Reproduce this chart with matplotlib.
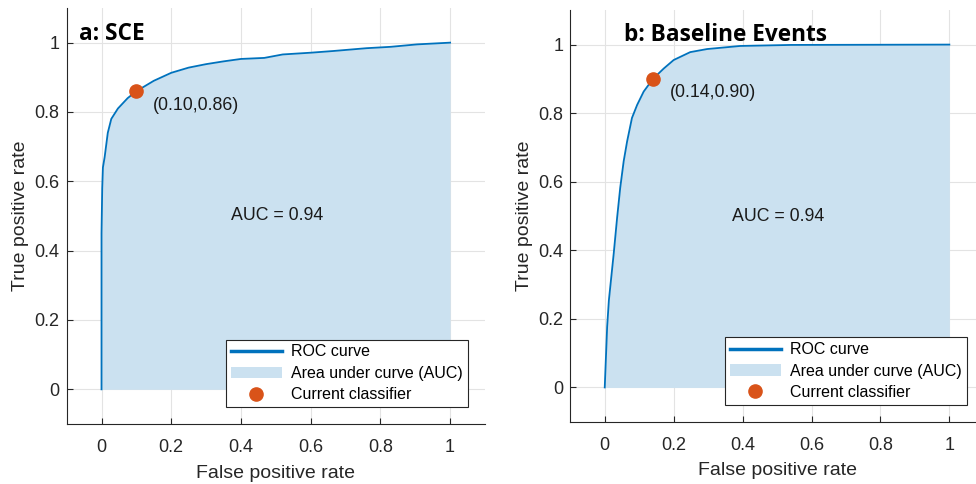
import numpy as np
import matplotlib.pyplot as plt

# ROC curve, panel a (SCE)
fpr_a = [0.0, 0.0, 0.002, 0.004, 0.009, 0.018, 0.028, 0.047, 0.075, 0.10, 0.15, 0.20,
         0.25, 0.30, 0.35, 0.40, 0.467, 0.52, 0.60, 0.666, 0.76, 0.83, 0.905, 1.0]
tpr_a = [0.0, 0.45, 0.58, 0.64, 0.67, 0.74, 0.78, 0.81, 0.84, 0.86, 0.89, 0.913,
         0.928, 0.938, 0.946, 0.953, 0.956, 0.966, 0.971, 0.976, 0.984, 0.988, 0.995, 1.0]

# ROC curve, panel b (Baseline Events)
fpr_b = [0.0, 0.007, 0.012, 0.026, 0.036, 0.045, 0.055, 0.065, 0.079, 0.094, 0.113,
         0.14, 0.171, 0.20, 0.248, 0.297, 0.393, 0.54, 1.0]
tpr_b = [0.0, 0.177, 0.254, 0.39, 0.496, 0.583, 0.66, 0.718, 0.786, 0.824, 0.863,
         0.90, 0.93, 0.955, 0.978, 0.987, 0.996, 0.999, 1.0]

op_a = (0.10, 0.86)
op_b = (0.14, 0.90)
auc_a = 0.94
auc_b = 0.94
titles = ['a: SCE', 'b: Baseline Events']
ticks = [0, 0.2, 0.4, 0.6, 0.8, 1]
tick_labels = ['0', '0.2', '0.4', '0.6', '0.8', '1']

plt.rcParams['font.family'] = 'Liberation Sans'

line_col = '#0072BD'
fill_col = '#cbe1f0'
dot_col = '#D95319'
ax_col = '#262626'

fig = plt.figure(figsize=(9.76, 4.84), dpi=100)
ax1 = fig.add_axes([0.0683, 0.124, 0.4286, 0.8595])
ax2 = fig.add_axes([0.5843, 0.1287, 0.4237, 0.850])

panels = [(ax1, fpr_a, tpr_a, op_a, auc_a, titles[0], (-0.066, 1.026)),
          (ax2, fpr_b, tpr_b, op_b, auc_b, titles[1], (0.057, 1.028))]

for ax, fpr, tpr, op, auc, title, tpos in panels:
    ax.set_xlim(-0.1, 1.1)
    ax.set_ylim(-0.1, 1.1)
    ax.grid(True, color='#e3e3e3', lw=0.8)
    ax.set_axisbelow(True)
    fill = ax.fill_between(fpr, tpr, 0, color=fill_col, lw=0, zorder=2,
                           label='Area under curve (AUC)')
    line, = ax.plot(fpr, tpr, color=line_col, lw=1.3, zorder=3, label='ROC curve')
    dot, = ax.plot([op[0]], [op[1]], 'o', color=dot_col, ms=9.5, zorder=4,
                   label='Current classifier')
    ax.annotate('(%.2f,%.2f)' % op, xy=op, xytext=(12, -10), textcoords='offset points',
                ha='left', va='center', fontsize=12.8, color='#1a1a1a')
    ax.text(0.37, 0.5, 'AUC = %.2f' % auc, ha='left', va='center', fontsize=12.8,
            color='#1a1a1a')
    ax.text(tpos[0], tpos[1], title, ha='left', va='center', fontsize=16.3,
            fontweight='bold', family='Open Sans', color='black')
    ax.set_xticks(ticks)
    ax.set_xticklabels(tick_labels)
    ax.set_yticks(ticks)
    ax.set_yticklabels(tick_labels)
    ax.tick_params(axis='both', direction='in', length=4, labelsize=13,
                   colors=ax_col, width=0.8)
    ax.tick_params(axis='x', pad=11)
    ax.tick_params(axis='y', pad=5)
    for s in ['top', 'right']:
        ax.spines[s].set_visible(False)
    for s in ['left', 'bottom']:
        ax.spines[s].set_color(ax_col)
        ax.spines[s].set_linewidth(0.8)
    ax.set_xlabel('False positive rate', fontsize=14, color=ax_col, labelpad=6)
    ax.set_ylabel('True positive rate', fontsize=14, color=ax_col, labelpad=4)
    leg = ax.legend(handles=[line, fill, dot], loc='lower right',
                    bbox_to_anchor=(0.959, 0.041), fontsize=11.5, fancybox=False,
                    edgecolor=ax_col, framealpha=1, handlelength=3.2,
                    labelspacing=0.4, borderpad=0.3, borderaxespad=0, handletextpad=0.6)
    leg.get_frame().set_linewidth(0.8)
    leg.legend_handles[0].set_linewidth(2.5)

fig.savefig('out.png', dpi=100)
